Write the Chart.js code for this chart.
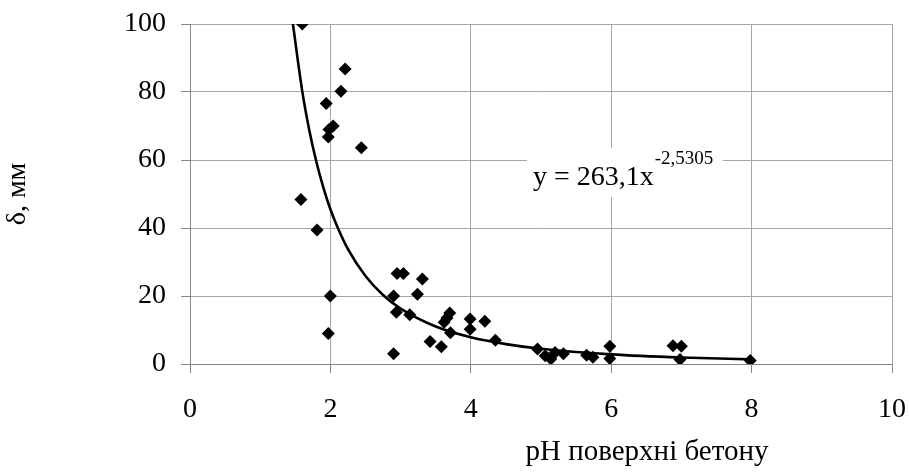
<!DOCTYPE html>
<html>
<head>
<meta charset="utf-8">
<script src="https://cdn.jsdelivr.net/npm/chart.js@4/dist/chart.umd.min.js"></script>
<style>
  html, body { margin: 0; padding: 0; background: #fff; }
  #wrap { width: 909px; height: 472px; position: relative; }
</style>
</head>
<body>
<div id="wrap"><canvas id="c" width="909" height="472"></canvas></div>
<script>
// measured points: pH of concrete surface vs delta, mm
var phValues = [1.60, 2.21, 2.15, 1.94, 2.04, 1.98, 1.97, 2.44, 1.58, 1.81,
                2.00, 1.97, 2.90, 2.95, 3.04, 3.31, 2.90, 3.24, 2.94, 3.13,
                3.42, 3.58, 3.62, 3.66, 3.70, 3.71, 3.99, 3.99, 4.20, 4.35,
                4.95, 5.06, 5.14, 5.20, 5.32, 5.65, 5.74, 5.98, 5.98, 6.88,
                7.00, 6.98, 7.98];
var deltaValues = [100, 86.8, 80.2, 76.6, 70.0, 69.0, 66.8, 63.6, 48.4, 39.4,
                   20.0, 9.0, 3.0, 26.6, 26.6, 25.0, 20.0, 20.5, 15.2, 14.5,
                   6.6, 5.1, 12.3, 13.5, 15.0, 9.2, 13.2, 10.2, 12.6, 7.0,
                   4.4, 2.4, 1.5, 3.4, 3.0, 2.6, 2.0, 5.2, 1.6, 5.4,
                   5.2, 1.3, 1.0];

// power trend line
var trendX = [1.466, 1.6, 1.7, 1.8, 1.9, 2.0, 2.1, 2.25, 2.5, 2.75, 3.0, 3.5, 4.0, 4.5, 5.0, 6.0, 7.0, 8.0];
var trendY = [100, 80.1, 68.7, 59.5, 51.9, 45.5, 40.3, 33.8, 25.9, 20.3, 16.3, 11.05, 7.88, 5.85, 4.48, 2.83, 1.91, 1.36];

var xTicks = [0, 2, 4, 6, 8, 10];
var yTicks = [0, 20, 40, 60, 80, 100];

var trendLabel = 'y = 263,1x';
var trendPower = '-2,5305';
var xTitle = 'pH поверхні бетону';
var yTitle = 'δ, мм';

var serif = '"Liberation Serif", "Times New Roman", serif';
var gridColor = '#a6a6a6';
var axisColor = '#868686';

function toPoints(xs, ys){
	var out = [];
	for(var i = 0; i < xs.length; i++){
		out.push({x: xs[i], y: ys[i]});
	}
	return out;
}

// equation box and x axis title drawn on top
var extras = {
	id: 'extras',
	afterDraw: function(chart){
		var ctx = chart.ctx;
		ctx.save();
		ctx.fillStyle = '#fff';
		ctx.fillRect(527, 148, 196, 49);
		ctx.fillStyle = '#000';
		ctx.textBaseline = 'alphabetic';
		ctx.textAlign = 'left';
		ctx.font = '28px ' + serif;
		ctx.fillText(trendLabel, 533, 185);
		var w = ctx.measureText(trendLabel).width;
		ctx.font = '19px ' + serif;
		ctx.fillText(trendPower, 533 + w + 1, 164);
		ctx.font = '29px ' + serif;
		ctx.textAlign = 'center';
		ctx.fillText(xTitle, 647, 460);
		ctx.restore();
	}
};

new Chart(document.getElementById('c'), {
	type: 'scatter',
	data: {
		datasets: [{
			label: 'points',
			data: toPoints(phValues, deltaValues),
			pointStyle: 'rectRot',
			pointRadius: 6.5,
			pointBackgroundColor: '#000',
			pointBorderColor: '#000',
			pointBorderWidth: 0,
			showLine: false,
			order: 1
		},{
			label: 'trend',
			data: toPoints(trendX, trendY),
			showLine: true,
			borderColor: '#000',
			borderWidth: 2.6,
			pointRadius: 0,
			cubicInterpolationMode: 'monotone',
			order: 2
		}]
	},
	options: {
		responsive: false,
		animation: false,
		events: [],
		layout: { padding: { top: 24, right: 17, left: 0, bottom: 0 } },
		plugins: { legend: { display: false }, tooltip: { enabled: false } },
		scales: {
			x: {
				type: 'linear',
				min: 0, max: 10,
				afterBuildTicks: function(scale){
					scale.ticks = xTicks.map(function(v){ return {value: v}; });
				},
				afterFit: function(scale){
					scale.height = 108;
					scale.paddingLeft = 0;
					scale.paddingRight = 0;
				},
				grid: { color: gridColor, tickColor: axisColor, tickLength: 9, lineWidth: 1 },
				border: { color: axisColor, width: 1 },
				ticks: { color: '#000', font: { family: serif, size: 28 }, padding: 20, maxRotation: 0 }
			},
			y: {
				type: 'linear',
				min: 0, max: 100,
				afterBuildTicks: function(scale){
					scale.ticks = yTicks.map(function(v){ return {value: v}; });
				},
				afterFit: function(scale){
					scale.width = 190;
					scale.paddingTop = 0;
					scale.paddingBottom = 0;
				},
				grid: { color: gridColor, tickColor: axisColor, tickLength: 9, lineWidth: 1 },
				border: { color: axisColor, width: 1 },
				ticks: { color: '#000', font: { family: serif, size: 28 }, padding: 15 },
				title: { display: true, text: yTitle, color: '#000', font: { family: serif, size: 28 }, padding: { top: 1, bottom: 0 } }
			}
		}
	},
	plugins: [extras]
});
</script>
</body>
</html>
